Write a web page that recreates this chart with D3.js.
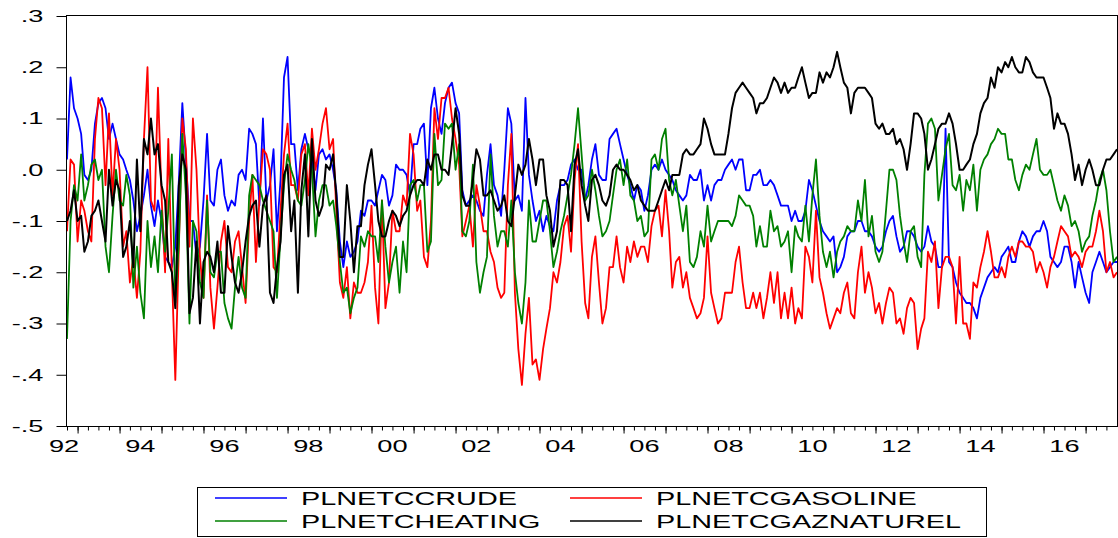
<!doctype html>
<html>
<head>
<meta charset="utf-8">
<title>PLNET series</title>
<script src="https://cdn.jsdelivr.net/npm/d3@7"></script>
<style>
  body { margin: 0; background: #fff; }
  svg text { font-family: "Liberation Sans", Arial, sans-serif; fill: #000; }
</style>
</head>
<body>
<svg width="1118" height="538"></svg>
<script>
// monthly readings, Oct 1992 .. Oct 2017
var crude = [
  0.02, 0.18, 0.12, 0.10, 0.07, -0.01, -0.02, 0.00, 0.09, 0.13, 0.14, 0.12, 0.06, 0.09, 0.06, 0.03, 0.02, 0.00, -0.02, -0.06,
  -0.12, -0.09, -0.05, 0.00, -0.07, -0.11, -0.06, -0.10, -0.17, -0.18, -0.19, -0.15, -0.02,
  0.13, 0.02, -0.10, -0.10, -0.17, -0.15, -0.06, 0.07, -0.06, -0.07, 0.00, 0.02, -0.05, -0.08, -0.06, -0.07, -0.01, 0.00,
  -0.02, 0.08, 0.07, 0.05, -0.07, 0.10, -0.06, -0.03, 0.04, -0.12, -0.02, 0.18, 0.22, 0.05, 0.05, -0.04, 0.04, 0.07, 0.04,
  0.02, -0.04, 0.03, 0.04, 0.02, 0.03, 0.00, -0.04, -0.14, -0.19, -0.14, -0.17, -0.16, -0.14,
  -0.08, -0.09, -0.06, -0.06, -0.07, -0.04, -0.01, -0.02, -0.07, -0.05, 0.01, 0.00, 0.00, -0.01, -0.05, 0.05, 0.05, 0.08,
  0.09, -0.03, 0.12, 0.16, 0.10, 0.07, 0.13, 0.16, 0.17, 0.13, 0.11, -0.04, -0.07, -0.06, -0.05, -0.06, -0.08, -0.09, -0.01,
  0.05, -0.03, -0.05, -0.09, 0.00, 0.12, 0.09, -0.06, -0.05, -0.08, 0.14, -0.01, -0.06, -0.10,
  -0.08, -0.12, -0.09, -0.11, -0.12, -0.06, -0.03, -0.03, -0.02, 0.01, 0.02, 0.00, 0.00, -0.06, -0.03, 0.02, 0.05, -0.01,
  -0.02, -0.02, 0.06, 0.07, 0.08, 0.05, 0.02, -0.01, -0.03, -0.06, -0.03, -0.04, -0.08, -0.05, 0.00, 0.01, 0.00, 0.02, 0.00,
  -0.01, -0.02, -0.04, -0.05, -0.06, -0.05, -0.01, -0.02, -0.02, 0.00, -0.06, -0.03, -0.06, -0.03, -0.02,
  -0.02, 0.00, 0.01, 0.02, 0.00, 0.02, 0.02, -0.04, -0.04, -0.01, -0.01, 0.00, -0.03, -0.03, -0.02, -0.03, -0.05, -0.07,
  -0.07, -0.07, -0.10, -0.08, -0.10, -0.10, -0.08, -0.02, -0.04, -0.07, -0.10, -0.12, -0.13, -0.14, -0.13, -0.20, -0.19,
  -0.17, -0.13, -0.12, -0.12, -0.10, -0.10, -0.12, -0.12, -0.13, -0.15, -0.16, -0.15, -0.12, -0.10, -0.09, -0.13,
  -0.16, -0.15, -0.12, -0.12, -0.13, -0.15, -0.16, -0.15, -0.11, -0.14, -0.15, -0.19, -0.19, 0.08, -0.18, -0.19, -0.22,
  -0.24, -0.25, -0.26, -0.26, -0.27, -0.29, -0.25, -0.23, -0.21, -0.20, -0.19, -0.20, -0.17, -0.16, -0.15, -0.18, -0.18,
  -0.14, -0.12, -0.13, -0.15, -0.13, -0.12, -0.12, -0.10, -0.12, -0.17, -0.18, -0.19, -0.18, -0.15, -0.15, -0.18, -0.23,
  -0.18, -0.21, -0.24, -0.26, -0.20, -0.18, -0.16, -0.18, -0.20, -0.19, -0.18, -0.18
];
var gasoline = [
  -0.12, 0.02, 0.01, -0.14, -0.06, -0.08, -0.12, -0.14, 0.06, 0.14, 0.12, -0.03, 0.11, -0.05, 0.06, 0.00, -0.15, -0.12,
  -0.22, -0.17, -0.25, -0.16, 0.06, 0.20, -0.06, -0.08, 0.16, -0.05, -0.20, 0.06, -0.20, -0.41, -0.15,
  0.10, 0.04, -0.15, 0.10, 0.00, -0.17, -0.25, -0.05, -0.23, -0.31, -0.23, -0.14, -0.10, -0.19, -0.20, -0.14, -0.12, -0.19,
  -0.26, -0.10, -0.01, -0.18, -0.06, 0.04, 0.03, 0.00, -0.19, -0.20, -0.08, 0.03, 0.09, -0.03, -0.03, -0.06, 0.03, 0.05,
  -0.05, 0.08, 0.00, 0.04, 0.09, 0.12, 0.04, 0.06, -0.08, -0.22, -0.25, -0.19, -0.29, -0.22, -0.24,
  -0.24, -0.22, -0.18, -0.07, -0.23, -0.30, -0.06, -0.27, -0.22, -0.08, -0.12, -0.12, -0.05, -0.07, 0.07, 0.03, -0.08,
  -0.06, -0.17, -0.19, -0.10, 0.12, 0.06, 0.14, 0.14, 0.16, 0.10, 0.06, 0.01, -0.13, -0.10, -0.07, -0.15, -0.03, -0.07,
  -0.12, -0.12, -0.16, -0.18, -0.23, -0.25, -0.24, -0.03, 0.07, -0.24, -0.35, -0.42, -0.32, -0.25, -0.38, -0.37,
  -0.41, -0.35, -0.31, -0.27, -0.20, -0.22, -0.18, -0.11, -0.09, -0.16, -0.02, 0.05, -0.14, -0.26, -0.29, -0.17, -0.13,
  -0.22, -0.30, -0.27, -0.19, -0.19, -0.13, -0.19, -0.22, -0.15, -0.18, -0.14, -0.17, -0.15, -0.15, -0.18, -0.11, -0.08,
  -0.07, -0.13, -0.04, -0.12, -0.23, -0.18, -0.17, -0.23, -0.20, -0.25, -0.27, -0.29, -0.28, -0.25, -0.13, -0.24, -0.27, -0.30,
  -0.29, -0.24, -0.24, -0.24, -0.18, -0.15, -0.22, -0.27, -0.27, -0.24, -0.27, -0.24, -0.29, -0.25, -0.20, -0.26, -0.20,
  -0.29, -0.24, -0.29, -0.23, -0.30, -0.27, -0.29, -0.15, -0.17, -0.22, -0.08, -0.21, -0.24, -0.28, -0.31, -0.29, -0.27,
  -0.28, -0.24, -0.22, -0.28, -0.29, -0.20, -0.15, -0.24, -0.20, -0.23, -0.28, -0.26, -0.30, -0.26, -0.23, -0.24, -0.30,
  -0.29, -0.32, -0.27, -0.25, -0.26, -0.35, -0.31, -0.29, -0.16, -0.18, -0.14, -0.27, -0.19, -0.17, -0.17, -0.19, -0.30,
  -0.17, -0.30, -0.30, -0.33, -0.22, -0.23, -0.19, -0.16, -0.12, -0.16, -0.21, -0.21, -0.19, -0.21, -0.17, -0.15, -0.17,
  -0.14, -0.14, -0.15, -0.15, -0.16, -0.20, -0.18, -0.20, -0.23, -0.19, -0.17, -0.14, -0.11, -0.12, -0.13, -0.17, -0.16,
  -0.17, -0.19, -0.16, -0.15, -0.15, -0.12, -0.08, -0.12, -0.20, -0.18, -0.21, -0.20
];
var heating = [
  -0.33, -0.10, -0.03, -0.06, 0.03, -0.06, -0.03, 0.01, 0.02, -0.02, 0.00, -0.15, -0.20, -0.09, 0.00, -0.06, -0.07, -0.01,
  -0.05, -0.23, -0.15, -0.24, -0.29, -0.10, -0.19, -0.13, -0.20, -0.08, -0.16, -0.08, 0.03, -0.26, -0.14,
  0.07, -0.05, -0.30, -0.10, -0.12, -0.22, -0.25, -0.06, -0.20, -0.21, -0.16, -0.16, -0.26, -0.29, -0.31, -0.23, -0.17,
  -0.23, -0.25, -0.05, -0.01, -0.02, -0.03, -0.06, -0.08, -0.10, -0.12, -0.25, -0.13, -0.03, 0.03, 0.00, -0.02, -0.06,
  -0.07, -0.02, 0.05, 0.00, -0.13, -0.06, -0.03, -0.03, -0.07, -0.06, -0.11, -0.18, -0.24, -0.23, -0.28, -0.25, -0.23,
  -0.13, -0.15, -0.12, -0.13, -0.13, -0.18, -0.06, -0.15, -0.22, -0.18, -0.15, -0.24, -0.14, -0.20, -0.03, -0.02, -0.06,
  -0.03, -0.03, -0.16, -0.14, 0.07, -0.03, -0.02, 0.09, 0.08, 0.09, 0.00, 0.05, -0.12, -0.13, -0.10, 0.01, -0.18, -0.24,
  -0.20, -0.17, 0.03, -0.09, -0.15, -0.12, -0.12, -0.15, -0.06, -0.20, -0.26, -0.30, -0.22, -0.06, -0.14, -0.14,
  -0.10, -0.06, -0.06, -0.12, -0.19, -0.16, -0.12, -0.09, -0.05, -0.01, 0.05, 0.12, 0.03, -0.06, -0.05, 0.00, -0.04,
  -0.09, -0.13, -0.12, -0.10, -0.05, 0.00, 0.02, -0.03, 0.02, -0.05, -0.06, -0.10, -0.09, -0.13, -0.12, 0.02, 0.03, 0.00,
  0.06, 0.08, -0.02, -0.05, -0.02, -0.07, -0.12, -0.07, -0.18, -0.19, -0.17, -0.12, -0.15, -0.07, -0.14, -0.12, -0.10,
  -0.10, -0.10, -0.10, -0.11, -0.09, -0.05, -0.06, -0.07, -0.07, -0.09, -0.15, -0.11, -0.15, -0.15, -0.08, -0.12, -0.11,
  -0.15, -0.14, -0.12, -0.20, -0.11, -0.13, -0.14, -0.07, -0.14, -0.05, 0.02, -0.09, -0.16, -0.19, -0.16, -0.21, -0.16,
  -0.14, -0.13, -0.11, -0.12, -0.12, -0.06, -0.10, -0.02, -0.13, -0.09, -0.16, -0.18, -0.16, -0.08, 0.00, 0.00, -0.02,
  -0.09, -0.14, -0.18, -0.12, -0.11, -0.17, -0.19, -0.01, 0.09, 0.10, 0.08, -0.06, -0.01, 0.04, 0.07, -0.03, -0.04, -0.01,
  -0.08, -0.02, -0.04, 0.01, -0.08, 0.00, 0.02, 0.03, 0.05, 0.06, 0.08, 0.07, 0.07, 0.02, 0.02, -0.02, -0.04, -0.01, 0.01,
  0.00, 0.03, 0.06, 0.00, -0.01, -0.01, 0.00, -0.03, -0.06, -0.08, -0.05, -0.07, -0.11, -0.10, -0.12, -0.16, -0.14, -0.13,
  -0.09, -0.06, -0.02, 0.00, -0.04, -0.12, -0.18, -0.17
];
var gaznaturel = [
  -0.10, -0.08, -0.04, -0.10, -0.09, -0.16, -0.14, -0.09, -0.08, -0.06, -0.10, -0.14, 0.00, -0.07, -0.02, -0.04, -0.17,
  -0.15, -0.10, -0.19, 0.02, -0.12, 0.06, 0.03, 0.10, 0.03, 0.05, -0.03, -0.06, -0.18, -0.20, -0.27, -0.03,
  0.03, 0.00, -0.28, -0.25, -0.14, -0.30, -0.18, -0.16, -0.17, -0.20, -0.14, -0.24, -0.24, -0.11, -0.17, -0.22, -0.24,
  -0.20, -0.14, -0.09, -0.07, -0.06, -0.15, -0.07, -0.05, -0.24, -0.26, -0.19, -0.14, -0.01, 0.01, -0.12, -0.06, -0.24,
  -0.04, 0.03, -0.13, 0.06, -0.06, -0.09, -0.07, 0.01, 0.00, 0.03, -0.05, -0.17, -0.17, -0.03, -0.10, -0.20, -0.11,
  -0.11, -0.03, 0.01, 0.04, -0.03, -0.10, -0.13, -0.13, -0.10, -0.08, -0.09, -0.11, -0.09, -0.08, -0.05, -0.03, -0.02,
  -0.02, -0.03, 0.02, 0.00, 0.03, 0.03, 0.00, 0.00, -0.01, 0.05, 0.12, 0.07, -0.05, -0.07, -0.07, -0.02, 0.04, 0.02,
  -0.05, -0.05, -0.04, -0.06, -0.08, -0.07, -0.05, -0.10, -0.11, -0.05, 0.01, -0.01, 0.01, 0.06, 0.02, -0.03,
  0.02, 0.02, -0.05, -0.08, -0.15, -0.12, -0.02, -0.02, -0.03, -0.12, 0.01, 0.04, -0.03, -0.07, -0.10, -0.02, -0.01,
  -0.03, -0.06, -0.07, -0.05, 0.00, 0.01, 0.00, 0.00, -0.01, -0.02, -0.04, -0.03, -0.06, -0.07, -0.08, -0.08, -0.08,
  -0.06, -0.04, -0.02, -0.04, -0.01, -0.01, -0.01, 0.03, 0.04, 0.03, 0.03, 0.04, 0.05, 0.10, 0.08, 0.05, 0.03, 0.03,
  0.03, 0.03, 0.07, 0.12, 0.15, 0.16, 0.17, 0.16, 0.15, 0.14, 0.11, 0.13, 0.13, 0.14, 0.16, 0.18, 0.17, 0.15, 0.17, 0.15,
  0.16, 0.16, 0.18, 0.20, 0.17, 0.14, 0.15, 0.15, 0.19, 0.17, 0.19, 0.18, 0.20, 0.23, 0.20, 0.17, 0.16, 0.11, 0.15, 0.16,
  0.16, 0.16, 0.15, 0.14, 0.09, 0.08, 0.09, 0.07, 0.07, 0.08, 0.05,
  0.06, 0.04, 0.00, 0.05, 0.11, 0.11, 0.10, 0.07, 0.00, 0.02, 0.05, 0.08, 0.09, 0.09, 0.11, 0.09, 0.05, 0.00, 0.00, 0.01,
  0.02, 0.05, 0.07, 0.11, 0.13, 0.14, 0.18, 0.16, 0.20, 0.19, 0.21, 0.20, 0.22, 0.20, 0.19, 0.19, 0.22, 0.21, 0.19, 0.18,
  0.18, 0.18, 0.16, 0.14, 0.08, 0.11, 0.09, 0.09, 0.07, 0.03, -0.02, 0.01, -0.03, 0.00, 0.02, 0.00, -0.03, -0.03, 0.00,
  0.02, 0.02, 0.03, 0.04
];

var seriesNames = ["PLNETCCRUDE", "PLNETCGASOLINE", "PLNETCHEATING", "PLNETCGAZNATUREL"];
var seriesColors = ["#0000ff", "#ff0000", "#008000", "#000000"];
var yTicks = [0.3, 0.2, 0.1, 0.0, -0.1, -0.2, -0.3, -0.4, -0.5];
var yearLabels = [1992, 1994, 1996, 1998, 2000, 2002, 2004, 2006, 2008, 2010, 2012, 2014, 2016];

var months = d3.timeMonth.range(new Date(1992, 9, 1), new Date(2017, 10, 1));
var series = [crude, gasoline, heating, gaznaturel];

var svg = d3.select("svg");
var plotL = 67, plotR = 1117, plotT = 16, plotB = 426;
var stretch = 1.6; // text in the picture is drawn wide

var x = d3.scaleTime()
  .domain([months[0], months[months.length - 1]])
  .range([plotL, plotR]);
var y = d3.scaleLinear().domain([-0.5, 0.3]).range([plotB, plotT]);

// quarter ticks and year ticks under the plot
var quarters = d3.timeMonth.every(3).range(months[0], months[months.length - 1]);
var years = d3.timeYear.range(months[0], months[months.length - 1]);

var xMinor = svg.append("g")
  .attr("transform", "translate(0," + (plotB + 0.5) + ")")
  .call(d3.axisBottom(x).tickValues(quarters).tickSize(4).tickFormat(""));
xMinor.select(".domain").remove();

var xMajor = svg.append("g")
  .attr("transform", "translate(0," + (plotB + 0.5) + ")")
  .call(d3.axisBottom(x).tickValues(years).tickSize(7).tickFormat(""));
xMajor.select(".domain").remove();

svg.selectAll(".tick line").attr("stroke", "#000");

// year labels sit in the middle of each year
svg.append("g").selectAll("text")
  .data(yearLabels)
  .enter().append("text")
  .attr("transform", function(d) {
    var px = Math.max(x(new Date(d, 6, 1)), plotL - 3);
    return "translate(" + px + ",452) scale(" + stretch + ",1)";
  })
  .attr("text-anchor", "middle")
  .style("font-size", "17px")
  .text(function(d) { return String(d).slice(2); });

// y axis
var yAxis = svg.append("g")
  .attr("transform", "translate(" + (plotL - 0.5) + ",0)")
  .call(d3.axisLeft(y).tickValues(yTicks).tickSize(10)
    .tickFormat(function(d) {
      var s = "." + Math.round(Math.abs(d) * 10);
      return d < -1e-9 ? "-" + s : s;
    }));
yAxis.select(".domain").remove();
yAxis.selectAll("line").attr("stroke", "#000");
yAxis.selectAll("text")
  .attr("x", -23 / stretch)
  .attr("transform", "scale(" + stretch + ",1)")
  .style("font-size", "17px")
  .attr("fill", "#000");

// lines
var line = d3.line()
  .x(function(d, i) { return x(months[i]); })
  .y(function(d) { return y(d); });

svg.append("g").selectAll("path")
  .data(series)
  .enter().append("path")
  .attr("d", line)
  .attr("fill", "none")
  .attr("stroke", function(d, i) { return seriesColors[i]; })
  .attr("stroke-width", function(d, i) { return i == 3 ? 2 : 1.8; })
  .attr("stroke-linejoin", "round");

// frame
svg.append("rect")
  .attr("x", plotL - 0.5).attr("y", plotT - 0.5)
  .attr("width", plotR - plotL + 1).attr("height", plotB - plotT + 1)
  .attr("fill", "none").attr("stroke", "#000").attr("stroke-width", 1);

// legend
var legend = svg.append("g");
legend.append("rect")
  .attr("x", 197.5).attr("y", 487.5)
  .attr("width", 789).attr("height", 49)
  .attr("fill", "none").attr("stroke", "#000");

var colX = [215, 570];
var rowY = [498, 521];
var item = legend.selectAll("g.item")
  .data(seriesNames)
  .enter().append("g")
  .attr("class", "item")
  .attr("transform", function(d, i) {
    return "translate(" + colX[i % 2] + "," + rowY[Math.floor(i / 2)] + ")";
  });
item.append("line")
  .attr("x1", 0).attr("x2", 72)
  .attr("stroke", function(d, i) { return seriesColors[i]; })
  .attr("stroke-width", 1.5);
item.append("text")
  .attr("transform", "translate(86,6.5) scale(" + stretch + ",1)")
  .style("font-size", "18px")
  .text(function(d) { return d; });
</script>
</body>
</html>
